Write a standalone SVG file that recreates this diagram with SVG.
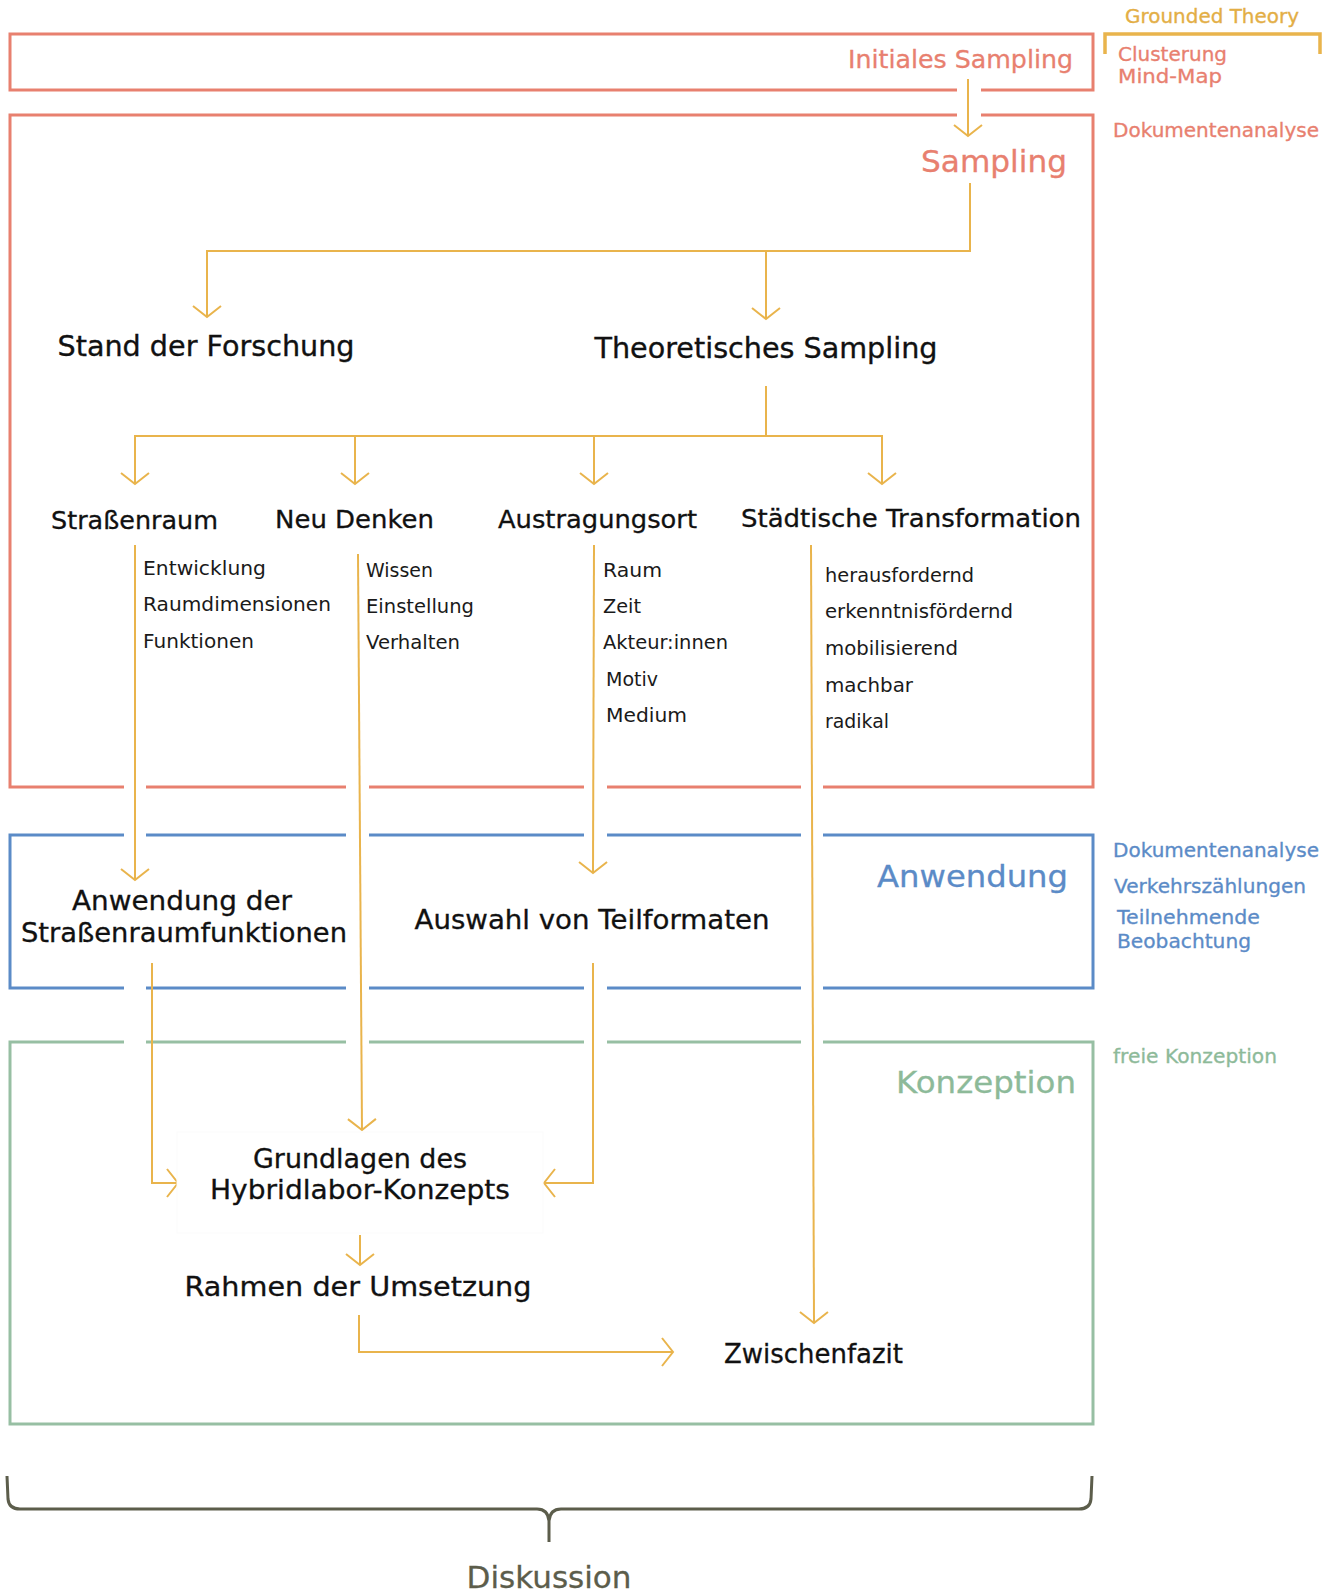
<svg xmlns="http://www.w3.org/2000/svg" width="1334" height="1593" viewBox="0 0 1334 1593">
  <defs>
    <style>
      text { font-family: "DejaVu Sans", "Liberation Sans", sans-serif; }
      .conn { fill: none; stroke: #E9B44C; stroke-width: 2; }
      .red { fill: none; stroke: #E8806F; stroke-width: 3; }
      .blue { fill: none; stroke: #5B8BC7; stroke-width: 3; }
      .green { fill: none; stroke: #97BFA3; stroke-width: 3; }
      .gap { fill: #ffffff; }
      .h1 { font-size: 28px; fill: #111111; stroke: #111111; stroke-width: 0.35; }
      .h2 { font-size: 25px; fill: #111111; stroke: #111111; stroke-width: 0.3; }
      .h3 { font-size: 26px; fill: #111111; stroke: #111111; stroke-width: 0.3; }
      .sub { font-size: 19px; fill: #1a1a1a; }
      .side { font-size: 19px; stroke-width: 0.3; }
      .big { font-size: 31px; stroke-width: 0.3; }
      .cred { fill: #E8806F; stroke: #E8806F; }
      .cblue { fill: #5B8BC7; stroke: #5B8BC7; }
      .cgreen { fill: #8DBA99; stroke: #8DBA99; }
      .cgold { fill: #E3AE45; stroke: #E3AE45; }
    </style>
    <marker id="arr" viewBox="-13 -15 15 30" refX="0" refY="0" markerWidth="15" markerHeight="30" markerUnits="userSpaceOnUse" orient="auto">
      <path d="M-11,-14 L0,0 L-11,14" fill="none" stroke="#E9B44C" stroke-width="2"/>
    </marker>
  </defs>

  <rect width="1334" height="1593" fill="#ffffff"/>

  <!-- phase frames -->
  <g id="frames">
    <rect class="red" x="10" y="34" width="1083" height="56"/>
    <rect class="red" x="10" y="115" width="1083" height="672"/>
    <rect class="blue" x="10" y="835" width="1083" height="153"/>
    <rect class="green" x="10" y="1042" width="1083" height="382"/>
    <!-- openings where connectors pass the frames -->
    <rect class="gap" x="957" y="86" width="24" height="33"/>
    <rect class="gap" x="124" y="783" width="22" height="8"/>
    <rect class="gap" x="346" y="783" width="23" height="8"/>
    <rect class="gap" x="584" y="783" width="23" height="8"/>
    <rect class="gap" x="801" y="783" width="22" height="8"/>
    <rect class="gap" x="124" y="831" width="22" height="8"/>
    <rect class="gap" x="346" y="831" width="23" height="8"/>
    <rect class="gap" x="584" y="831" width="23" height="8"/>
    <rect class="gap" x="801" y="831" width="22" height="8"/>
    <rect class="gap" x="124" y="984" width="22" height="8"/>
    <rect class="gap" x="346" y="984" width="23" height="8"/>
    <rect class="gap" x="584" y="984" width="23" height="8"/>
    <rect class="gap" x="801" y="984" width="22" height="8"/>
    <rect class="gap" x="124" y="1038" width="22" height="8"/>
    <rect class="gap" x="346" y="1038" width="23" height="8"/>
    <rect class="gap" x="584" y="1038" width="23" height="8"/>
    <rect class="gap" x="801" y="1038" width="22" height="8"/>
  </g>

  <!-- phase titles and methods -->
  <g id="phase-labels">
    <path d="M1105,54 V34 H1320 V54" fill="none" stroke="#E9B44C" stroke-width="3.5"/>
    <text class="side cgold" x="1212" y="23" text-anchor="middle" textLength="174" lengthAdjust="spacingAndGlyphs">Grounded Theory</text>
    <text class="side cred" x="1118" y="61" textLength="109" lengthAdjust="spacingAndGlyphs">Clusterung</text>
    <text class="side cred" x="1118" y="83" textLength="104" lengthAdjust="spacingAndGlyphs">Mind-Map</text>
    <text class="side cred" x="1113" y="137" textLength="206" lengthAdjust="spacingAndGlyphs">Dokumentenanalyse</text>
    <text class="cred" font-size="25" stroke-width="0.3" x="1073" y="68" text-anchor="end" textLength="225" lengthAdjust="spacingAndGlyphs">Initiales Sampling</text>
    <text class="big cred" x="1067" y="172" text-anchor="end" textLength="146" lengthAdjust="spacingAndGlyphs">Sampling</text>
    <text class="big cblue" x="1068" y="887" text-anchor="end" textLength="191" lengthAdjust="spacingAndGlyphs">Anwendung</text>
    <text class="side cblue" x="1113" y="857" textLength="206" lengthAdjust="spacingAndGlyphs">Dokumentenanalyse</text>
    <text class="side cblue" x="1114" y="893" textLength="192" lengthAdjust="spacingAndGlyphs">Verkehrszählungen</text>
    <text class="side cblue" x="1117" y="924" textLength="143" lengthAdjust="spacingAndGlyphs">Teilnehmende</text>
    <text class="side cblue" x="1117" y="948" textLength="134" lengthAdjust="spacingAndGlyphs">Beobachtung</text>
    <text class="big cgreen" x="1076" y="1093" text-anchor="end" textLength="180" lengthAdjust="spacingAndGlyphs">Konzeption</text>
    <text class="side cgreen" x="1113" y="1063" textLength="164" lengthAdjust="spacingAndGlyphs">freie Konzeption</text>
  </g>

  <!-- connectors -->
  <g id="connectors">
    <path class="conn" d="M968,79 V136" marker-end="url(#arr)"/>
    <path class="conn" d="M970,183 V251 H207 V317" marker-end="url(#arr)"/>
    <path class="conn" d="M766,251 V319" marker-end="url(#arr)"/>
    <path class="conn" d="M766,386 V436 H135 V484" marker-end="url(#arr)"/>
    <path class="conn" d="M355,436 V484" marker-end="url(#arr)"/>
    <path class="conn" d="M594,436 V484" marker-end="url(#arr)"/>
    <path class="conn" d="M766,436 H882 V484" marker-end="url(#arr)"/>
    <path class="conn" d="M135,545 V880" marker-end="url(#arr)"/>
    <path class="conn" d="M358,554 L362,1130" marker-end="url(#arr)"/>
    <path class="conn" d="M594,545 L593,873" marker-end="url(#arr)"/>
    <path class="conn" d="M811,545 L814,1323" marker-end="url(#arr)"/>
    <path class="conn" d="M152,963 V1183 H178" marker-end="url(#arr)"/>
    <path class="conn" d="M593,963 V1183 H544" marker-end="url(#arr)"/>
    <path class="conn" d="M360,1235 V1265" marker-end="url(#arr)"/>
    <path class="conn" d="M359,1315 V1352 H673" marker-end="url(#arr)"/>
  </g>

  <!-- nodes -->
  <g id="node-stand">
    <text class="h1" x="206" y="356" text-anchor="middle" textLength="297" lengthAdjust="spacingAndGlyphs">Stand der Forschung</text>
  </g>
  <g id="node-theoretisch">
    <text class="h1" x="766" y="358" text-anchor="middle" textLength="343" lengthAdjust="spacingAndGlyphs">Theoretisches Sampling</text>
  </g>
  <g id="node-strassenraum">
    <text class="h2" x="51" y="529" textLength="167" lengthAdjust="spacingAndGlyphs">Straßenraum</text>
    <text class="sub" x="143" y="575" textLength="123" lengthAdjust="spacingAndGlyphs">Entwicklung</text>
    <text class="sub" x="143" y="611" textLength="188" lengthAdjust="spacingAndGlyphs">Raumdimensionen</text>
    <text class="sub" x="143" y="648" textLength="111" lengthAdjust="spacingAndGlyphs">Funktionen</text>
  </g>
  <g id="node-neudenken">
    <text class="h2" x="275" y="528" textLength="159" lengthAdjust="spacingAndGlyphs">Neu Denken</text>
    <text class="sub" x="366" y="577" textLength="67" lengthAdjust="spacingAndGlyphs">Wissen</text>
    <text class="sub" x="366" y="613" textLength="108" lengthAdjust="spacingAndGlyphs">Einstellung</text>
    <text class="sub" x="366" y="649" textLength="94" lengthAdjust="spacingAndGlyphs">Verhalten</text>
  </g>
  <g id="node-austragungsort">
    <text class="h2" x="498" y="528" textLength="199" lengthAdjust="spacingAndGlyphs">Austragungsort</text>
    <text class="sub" x="603" y="577" textLength="59" lengthAdjust="spacingAndGlyphs">Raum</text>
    <text class="sub" x="603" y="613" textLength="38" lengthAdjust="spacingAndGlyphs">Zeit</text>
    <text class="sub" x="603" y="649" textLength="125" lengthAdjust="spacingAndGlyphs">Akteur:innen</text>
    <text class="sub" x="606" y="686" textLength="52" lengthAdjust="spacingAndGlyphs">Motiv</text>
    <text class="sub" x="606" y="722" textLength="81" lengthAdjust="spacingAndGlyphs">Medium</text>
  </g>
  <g id="node-transformation">
    <text class="h2" x="741" y="527" textLength="340" lengthAdjust="spacingAndGlyphs">Städtische Transformation</text>
    <text class="sub" x="825" y="582" textLength="149" lengthAdjust="spacingAndGlyphs">herausfordernd</text>
    <text class="sub" x="825" y="618" textLength="188" lengthAdjust="spacingAndGlyphs">erkenntnisfördernd</text>
    <text class="sub" x="825" y="655" textLength="133" lengthAdjust="spacingAndGlyphs">mobilisierend</text>
    <text class="sub" x="825" y="692" textLength="88" lengthAdjust="spacingAndGlyphs">machbar</text>
    <text class="sub" x="825" y="728" textLength="64" lengthAdjust="spacingAndGlyphs">radikal</text>
  </g>
  <g id="node-anwendung-funktionen">
    <text class="h3" x="182" y="910" text-anchor="middle" textLength="220" lengthAdjust="spacingAndGlyphs">Anwendung der</text>
    <text class="h3" x="184" y="942" text-anchor="middle" textLength="326" lengthAdjust="spacingAndGlyphs">Straßenraumfunktionen</text>
  </g>
  <g id="node-teilformate">
    <text class="h3" x="592" y="929" text-anchor="middle" textLength="355" lengthAdjust="spacingAndGlyphs">Auswahl von Teilformaten</text>
  </g>
  <g id="node-grundlagen">
    <rect x="177" y="1132" width="366" height="101" fill="#ffffff" stroke="#fbfbfb" stroke-width="1"/>
    <text class="h3" x="360" y="1168" text-anchor="middle" textLength="214" lengthAdjust="spacingAndGlyphs">Grundlagen des</text>
    <text class="h3" x="360" y="1199" text-anchor="middle" textLength="300" lengthAdjust="spacingAndGlyphs">Hybridlabor-Konzepts</text>
  </g>
  <g id="node-rahmen">
    <text class="h3" x="358" y="1296" text-anchor="middle" textLength="347" lengthAdjust="spacingAndGlyphs">Rahmen der Umsetzung</text>
  </g>
  <g id="node-zwischenfazit">
    <text class="h3" x="724" y="1363" textLength="179" lengthAdjust="spacingAndGlyphs">Zwischenfazit</text>
  </g>

  <!-- closing brace -->
  <g id="diskussion">
    <path d="M7,1476 L8,1499 Q9,1509 20,1509 L537,1509 Q548,1509 549,1521 L549,1542 M549,1542 L549,1521 Q550,1509 561,1509 L1079,1509 Q1090,1509 1091,1499 L1092,1476" fill="none" stroke="#5C5D4B" stroke-width="3"/>
    <text font-size="31" fill="#5C5D4B" stroke="#5C5D4B" stroke-width="0.3" x="549" y="1588" text-anchor="middle" textLength="165" lengthAdjust="spacingAndGlyphs">Diskussion</text>
  </g>
</svg>
